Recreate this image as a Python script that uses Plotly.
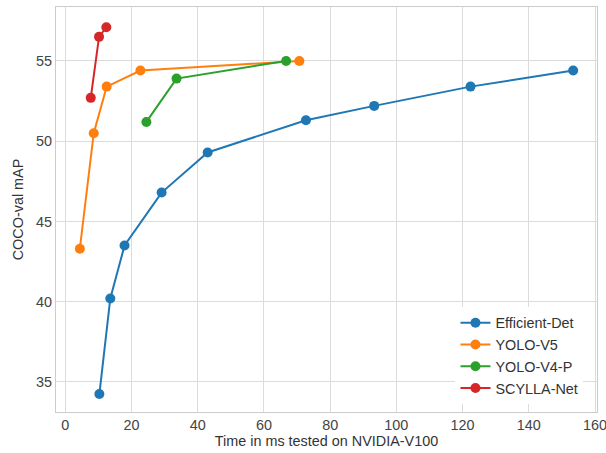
import plotly.graph_objects as go

effdet_x = [10.3, 13.6, 17.9, 29.1, 43.0, 72.7, 93.3, 122.4, 153.4]
effdet_y = [34.25, 40.2, 43.5, 46.8, 49.3, 51.3, 52.2, 53.4, 54.4]
yolov5_x = [4.4, 8.6, 12.5, 22.7, 70.7]
yolov5_y = [43.3, 50.5, 53.4, 54.4, 55.0]
yolov4p_x = [24.5, 33.6, 66.7]
yolov4p_y = [51.2, 53.9, 55.0]
scylla_x = [7.7, 10.2, 12.4]
scylla_y = [52.7, 56.5, 57.1]

series = [
    ("Efficient-Det", effdet_x, effdet_y, "#1f77b4"),
    ("YOLO-V5", yolov5_x, yolov5_y, "#ff7f0e"),
    ("YOLO-V4-P", yolov4p_x, yolov4p_y, "#2ca02c"),
    ("SCYLLA-Net", scylla_x, scylla_y, "#d62728"),
]

fig = go.Figure()
for name, xs, ys, c in series:
    fig.add_trace(go.Scatter(x=xs, y=ys, name=name, mode="lines+markers",
                             line=dict(color=c, width=2),
                             marker=dict(color=c, size=10)))

FS = 14.4
axis_common = dict(showgrid=True, gridcolor="#dcdcdc", gridwidth=1,
                   showline=True, linecolor="#cccccc", linewidth=1, mirror=True,
                   zeroline=False, ticks="", automargin=False,
                   ticklabeloverflow="allow",
                   tickfont=dict(size=FS, color="#444444"))

fig.update_layout(
    width=606, height=453,
    margin=dict(l=56, r=9, t=7, b=41),
    paper_bgcolor="white", plot_bgcolor="white",
    font=dict(family="Liberation Sans, Arial, sans-serif", size=FS, color="#333333"),
    xaxis=dict(range=[-2.8, 160.6], tickvals=[0, 20, 40, 60, 80, 100, 120, 140, 160],
               title=dict(text="Time in ms tested on NVIDIA-V100", standoff=2,
                          font=dict(size=FS, color="#333333")), **axis_common),
    yaxis=dict(range=[33.13, 58.36], tickvals=[35, 40, 45, 50, 55],
               title=dict(text="COCO-val mAP", standoff=9,
                          font=dict(size=FS, color="#333333")), **axis_common),
    legend=dict(x=0.975, y=0.02, xanchor="right", yanchor="bottom",
                bgcolor="white", borderwidth=0, itemwidth=30,
                font=dict(size=FS, color="#333333"), tracegroupgap=0),
    showlegend=True,
)

fig.write_html("out.html", config={"displayModeBar": False},
               post_script="document.body.style.margin='0px';document.body.style.overflow='hidden';")
